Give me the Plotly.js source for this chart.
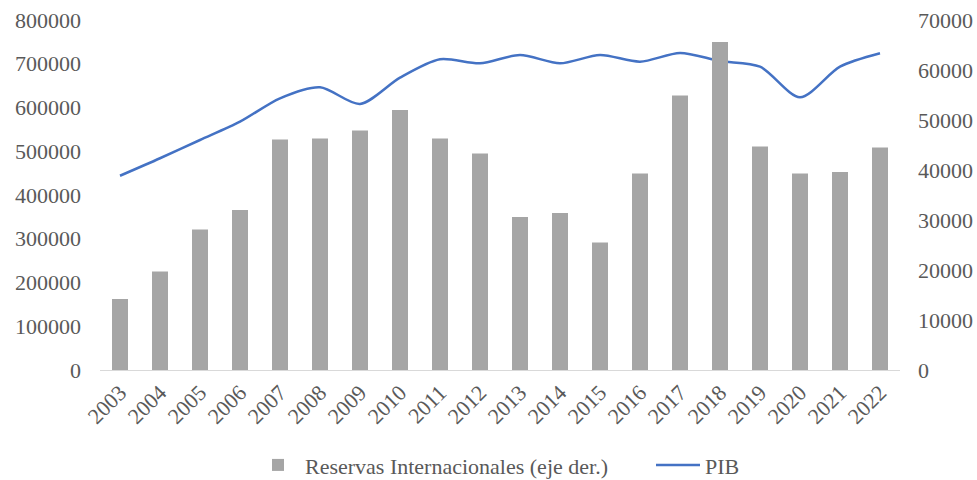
<!DOCTYPE html>
<html>
<head>
<meta charset="utf-8">
<script src="https://cdn.plot.ly/plotly-3.0.1.min.js"></script>
<style>html,body{margin:0;padding:0;background:#fff;}</style>
</head>
<body>
<div id="chart" style="width:977px;height:480px;"></div>
<script>
const years = ["2003","2004","2005","2006","2007","2008","2009","2010","2011","2012","2013","2014","2015","2016","2017","2018","2019","2020","2021","2022"];
const reservas = [14200,19700,28100,32000,46100,46300,47900,52000,46300,43300,30600,31400,25500,39300,54900,65600,44700,39300,39600,44500];
const pib = [444000,484000,525700,567600,621000,646200,608000,668100,710200,701000,720000,701000,720000,704700,724600,706300,693300,623300,693300,723900];
const leftTicks = [0,100000,200000,300000,400000,500000,600000,700000,800000];
const rightTicks = [0,10000,20000,30000,40000,50000,60000,70000];

const FAM = "Liberation Serif";
function mkFont(size) { return {family: FAM, size: size, color: "#595959"}; }
const traces = [
  {type: "bar", x: years, y: reservas, yaxis: "y2", name: "Reservas Internacionales (eje der.)",
   marker: {color: "#A5A5A5"}, legend: "legend"},
  {type: "scatter", mode: "lines", x: years, y: pib, yaxis: "y", name: "PIB",
   line: {color: "#4472C4", width: 2.5, shape: "spline", smoothing: 0.8}, legend: "legend2"}
];
function mkLegend(xpx) {
  return {orientation: "h", x: xpx / 977, xanchor: "left", xref: "container", yref: "container",
          y: 0.031, yanchor: "middle", font: mkFont(22), itemwidth: 44, bgcolor: "rgba(0,0,0,0)"};
}
const layout = {
  width: 977, height: 480,
  margin: {l: 100, r: 77, t: 20, b: 110, autoexpand: false},
  paper_bgcolor: "#fff", plot_bgcolor: "#fff",
  font: mkFont(22),
  bargap: 0.6,
  showlegend: true,
  legend: mkLegend(251),
  legend2: mkLegend(651),
  xaxis: {type: "category", tickangle: -45, showgrid: false, showline: true, linecolor: "#D9D9D9",
          linewidth: 1, ticks: "", tickfont: mkFont(22), zeroline: false, automargin: false},
  yaxis: {range: [0, 800000], tickvals: leftTicks, ticktext: leftTicks.map(String), showgrid: false,
          zeroline: false, showline: false, ticks: "", tickfont: mkFont(22), automargin: false,
          ticklabelstandoff: 18},
  yaxis2: {range: [0, 70000], tickvals: rightTicks, ticktext: rightTicks.map(String), overlaying: "y",
           side: "right", showgrid: false, zeroline: false, showline: false, ticks: "",
           tickfont: mkFont(22), automargin: false, ticklabelstandoff: 17}
};
Plotly.newPlot("chart", traces, layout, {displayModeBar: false, staticPlot: true});
</script>
</body>
</html>
